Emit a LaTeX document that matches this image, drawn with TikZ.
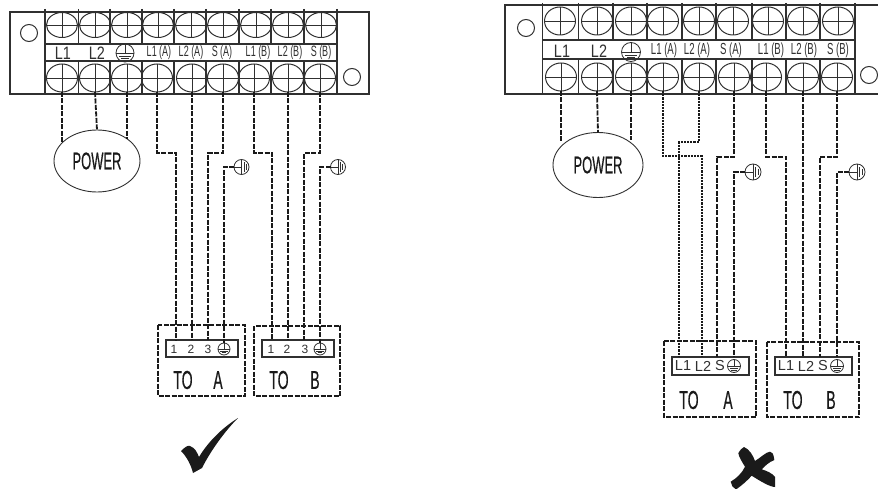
\documentclass[tikz,border=0pt]{standalone}
\usepackage{fontspec}
\setmainfont{Liberation Sans}
\newfontfamily\narrowsans[FakeStretch=0.54,FakeBold=0.4]{Liberation Sans}
\newfontfamily\slimsans[FakeStretch=0.6]{Liberation Sans}
\newfontfamily\midsans[FakeStretch=0.8]{Liberation Sans}
\usetikzlibrary{shapes.geometric, positioning, calc}
\definecolor{inkline}{HTML}{303030}
\definecolor{inkwire}{HTML}{1A1A1A}
\tikzset{
  screw/.style={ellipse,draw=inkline,line width=1pt,inner sep=0pt,outer sep=0pt,
    minimum width=31pt,minimum height=#1,
    path picture={\draw[inkline,line width=0.9pt]
      (path picture bounding box.north) -- (path picture bounding box.south)
      (path picture bounding box.west) -- (path picture bounding box.east);}},
  frame/.style={draw=inkline,line width=1.1pt},
  wire/.style={inkwire,line width=1.8pt,dash pattern=on 5pt off 1.5pt},
  dotwire/.style={inkwire,line width=1.5pt,dash pattern=on 2.2pt off 1pt},
  outline/.style={draw=inkwire,line width=1.4pt,dash pattern=on 5pt off 1.5pt},
  stripbox/.style={draw=inkline,line width=1.1pt,inner sep=0pt,outer sep=0pt},
  powerbubble/.style={ellipse,draw=inkline,line width=0.9pt,inner sep=0pt,outer sep=0pt,
    font=\narrowsans\fontsize{24}{24}\selectfont,text=inkwire},
  bigtag/.style={font=\midsans\fontsize{18}{18}\selectfont,text=inkline,inner sep=0pt},
  smalltag/.style={font=\slimsans\fontsize{#1}{#1}\selectfont,text=inkline,inner sep=0pt},
  pintag/.style={font=\fontsize{#1}{#1}\selectfont,text=inkline,inner sep=0pt},
  totag/.style={font=\narrowsans\fontsize{26}{26}\selectfont,text=inkwire,inner sep=0pt},
  pics/earthsign/.style={code={
    \node[circle,draw=inkline,line width=0.8pt,inner sep=0pt,outer sep=0pt,minimum size=2*#1 pt] (-ring) {};
    \draw[inkline,line width=0.8pt] (0,-#1) -- (0,0) (-#1,0) -- (#1,0)
      (-0.62*#1,0.33*#1) -- (0.62*#1,0.33*#1) (-0.4*#1,0.62*#1) -- (0.4*#1,0.62*#1);
  }},
}
\begin{document}
\begin{tikzpicture}[x=1pt,y=-1pt]
\useasboundingbox (0,0) rectangle (878,489);
% left panel
\draw[frame] (10,12) rectangle (369,94);
\foreach \x in {45,78.5,110,142,174,206,239,271,304,337}
  \draw[frame] (\x,9) -- (\x,44) (\x,61) -- (\x,94);
\draw[frame,fill=white] (45,44) rectangle (337,61);
\node[circle,draw=inkline,line width=1pt,minimum size=17pt,inner sep=0pt] (holeLa) at (29,33) {};
\node[circle,draw=inkline,line width=1pt,minimum size=17pt,inner sep=0pt] (holeLb) at (352,77) {};
\foreach \i/\u/\l in {1/62/62,2/95/95,3/127/127,4/158/157,5/191/192,6/223/223,7/256/254,8/288/288,9/321/320} {
  \node[screw=25pt] (tLtop\i) at (\u,25) {};
  \node[screw=28pt] (tLbot\i) at (\l,78) {};
}
\node[bigtag] (tagLa) at (63,53) {L1};
\node[bigtag] (tagLb) at (97,53) {L2};
\pic (gLmain) at (125,53) {earthsign=9};
\foreach \i/\x/\t in {1/159/L1\,(A),2/191/L2\,(A),3/222/S\,(A),4/258/L1\,(B),5/290/L2\,(B),6/321/S\,(B)}
  \node[smalltag=15] (lblL\i) at (\x,53) {\t};
\node[powerbubble,minimum width=86pt,minimum height=62pt] (pwL) at (97,161) {POWER};
\draw[wire] (tLbot1.south) -- (tLbot1.south |- pwL.151);
\draw[wire] (tLbot2.south) -- (pwL.north);
\draw[wire] (tLbot3.south) -- (tLbot3.south |- pwL.35);
% left boxes
\draw[outline] (158,325) rectangle (245,396);
\draw[outline] (254,326) rectangle (340,396);
\node[stripbox,minimum width=72pt,minimum height=17pt] (stripA) at (202,348.5) {};
\node[stripbox,minimum width=72pt,minimum height=17pt] (stripB) at (298,348.5) {};
\foreach \n/\x/\t in {A1/174/1,A2/191/2,A3/208/3,B1/271/1,B2/287/2,B3/305/3}
  \node[pintag=12] (pin\n) at (\x,349) {\t};
\pic (gA) at (224,349) {earthsign=6};
\pic (gB) at (320,349) {earthsign=6};
\draw[wire] (tLbot4.south) -- ++(0,61) -| (176,340);
\draw[wire] (tLbot5.south) -- (tLbot5.south |- stripA.north);
\draw[wire] (tLbot6.south) -- ++(0,61) -| (pinA3 |- stripA.north);
\draw[wire] (tLbot7.south) -- ++(0,61) -| (272,340);
\draw[wire] (tLbot8.south) -- (tLbot8.south |- stripB.north);
\draw[wire] (tLbot9.south) -- ++(0,61) -| (304,340);
\pic[rotate=90] (gsA) at (241.5,167) {earthsign=7.5};
\pic[rotate=90] (gsB) at (338,167) {earthsign=7.5};
\draw[wire] (gsA-ring.west) -| (gA-ring.north);
\draw[wire] (gsB-ring.west) -| (gB-ring.north);
\node[totag] (toA) at (183,380) {TO};
\node[totag] (nameA) at (218,380) {A};
\node[totag] (toB) at (279,380) {TO};
\node[totag] (nameB) at (315,380) {B};
\fill[inkwire] (181,451) .. controls (185,447) and (188,445) .. (190,446)
  .. controls (195,448) and (197,452) .. (199,457)
  .. controls (208,442) and (222,428) .. (238,418)
  .. controls (224,432) and (210,452) .. (202,468)
  -- (193,473) .. controls (191,465) and (187,457) .. (181,451) -- cycle;
% right panel
\draw[frame] (505,5) rectangle (880,94);
\foreach \x in {542.7,578.7,613,647,682,716,752,786,820,855}
  \draw[frame] (\x,3) -- (\x,40) (\x,59) -- (\x,94);
\draw[frame,fill=white] (542.7,40) rectangle (855,59);
\node[circle,draw=inkline,line width=1pt,minimum size=17pt,inner sep=0pt] (holeRa) at (526,28) {};
\node[circle,draw=inkline,line width=1pt,minimum size=17pt,inner sep=0pt] (holeRb) at (869,75) {};
\foreach \i/\u/\l in {1/560/561,2/597/597,3/631/631,4/663/663,5/699/699,6/733/734,7/768/766,8/803/803,9/838/837} {
  \node[screw=28pt] (tRtop\i) at (\u,21) {};
  \node[screw=28pt] (tRbot\i) at (\l,77) {};
}
\node[bigtag] (tagRa) at (562,51) {L1};
\node[bigtag] (tagRb) at (599,51) {L2};
\pic (gRmain) at (631,52) {earthsign=9.5};
\foreach \i/\x/\t in {1/664/L1\,(A),2/697/L2\,(A),3/731/S\,(A),4/771/L1\,(B),5/804/L2\,(B),6/838/S\,(B)}
  \node[smalltag=16] (lblR\i) at (\x,50) {\t};
\node[powerbubble,minimum width=90pt,minimum height=65pt] (pwR) at (598,165) {POWER};
\draw[wire] (tRbot1.south) -- (tRbot1.south |- pwR.146);
\draw[wire] (tRbot2.south) -- (pwR.north);
\draw[wire] (tRbot3.south) -- (tRbot3.south |- pwR.40);
% right boxes
\draw[outline] (664,341) rectangle (756,417);
\draw[outline] (767,342) rectangle (859,417);
\node[stripbox,minimum width=77pt,minimum height=18pt] (stripC) at (710.5,366) {};
\node[stripbox,minimum width=77pt,minimum height=18pt] (stripD) at (813.5,366) {};
\foreach \n/\x/\t in {C1/683/L1,C2/703/L2,C3/720/S,D1/786/L1,D2/806/L2,D3/823/S}
  \node[pintag=14.5] (pin\n) at (\x,366) {\t};
\pic (gC) at (734,366) {earthsign=6.5};
\pic (gD) at (837,366) {earthsign=6.5};
\draw[dotwire] (tRbot4.south) -- ++(0,65) -| (702,357);
\draw[dotwire] (tRbot5.south) -- ++(0,51) -| (679,357);
\draw[wire] (tRbot6.south) -- ++(0,66) -| (717,357);
\draw[wire] (tRbot7.south) -- ++(0,66) -| (786,357);
\draw[wire] (tRbot8.south) -- (tRbot8.south |- stripD.north);
\draw[wire] (tRbot9.south) -- ++(0,66) -| (820,357);
\pic[rotate=90] (gsC) at (753,172) {earthsign=8};
\pic[rotate=90] (gsD) at (857,172) {earthsign=8};
\draw[wire] (gsC-ring.west) -| (gC-ring.north |- stripC.north);
\draw[wire] (gsD-ring.west) -| (gD-ring.north |- stripD.north);
\node[totag] (toC) at (689,400) {TO};
\node[totag] (nameC) at (728,400) {A};
\node[totag] (toD) at (793,400) {TO};
\node[totag] (nameD) at (831,400) {B};
\fill[inkwire] (744,447) .. controls (749,449) and (753,455) .. (755,461)
  .. controls (760,458) and (766,452) .. (770,451.7)
  .. controls (772,452) and (773.5,453) .. (774.3,460)
  .. controls (769,462) and (765,466) .. (761.7,469.3)
  .. controls (767,471) and (772,473) .. (775,477)
  -- (775,487) .. controls (770,487) and (760,481) .. (751.7,475.7)
  .. controls (747,481) and (741,486) .. (736,489.5)
  .. controls (733,488) and (731,485) .. (730.7,481.7)
  .. controls (737,478) and (742,473) .. (745,466.7)
  .. controls (742,462) and (739,457) .. (738.3,453.3)
  .. controls (740,450) and (742,448) .. (744,447) -- cycle;
\end{tikzpicture}
\end{document}
